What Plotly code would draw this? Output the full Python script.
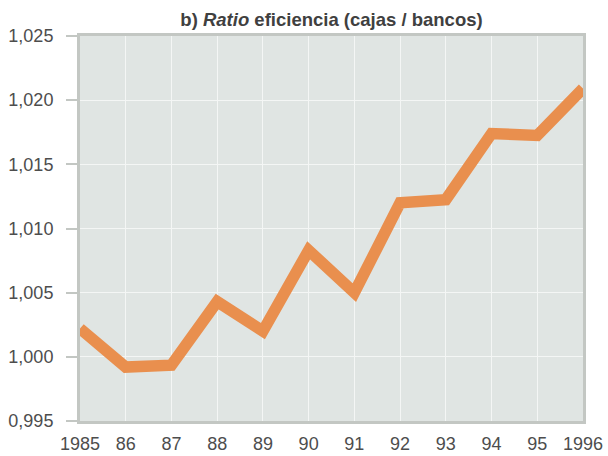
import plotly.graph_objects as go

years = [1985, 1986, 1987, 1988, 1989, 1990, 1991, 1992, 1993, 1994, 1995, 1996]
ratio = [1.0022, 0.9992, 0.99935, 1.0043, 1.0020, 1.0083, 1.0050, 1.0120, 1.01225, 1.0174, 1.01725, 1.0209]
x_tick_labels = ["1985", "86", "87", "88", "89", "90", "91", "92", "93", "94", "95", "1996"]
y_ticks = [0.995, 1.000, 1.005, 1.010, 1.015, 1.020, 1.025]
y_tick_labels = ["0,995", "1,000", "1,005", "1,010", "1,015", "1,020", "1,025"]

fig = go.Figure()
fig.add_trace(go.Scatter(
    x=years, y=ratio, mode="lines",
    line=dict(color="#e98f4e", width=11.5),
    cliponaxis=False, showlegend=False, hoverinfo="skip",
))

border = "#c3c7c3"
fig.update_layout(
    width=608, height=456,
    margin=dict(l=80, r=25, t=36, b=35, autoexpand=False),
    paper_bgcolor="white",
    plot_bgcolor="#e0e5e3",
    font=dict(family="Liberation Sans, Arial, sans-serif", size=18, color="#4d4d4d"),
    title=dict(
        text="<b>b) <i>Ratio</i> eficiencia (cajas / bancos)</b>",
        font=dict(size=18.5, color="#404040"),
        x=0.5, xref="paper", xanchor="center",
        y=1 - 20 / 456, yref="container", yanchor="middle",
    ),
    xaxis=dict(
        range=[1985, 1996], tickmode="array", tickvals=years, ticktext=x_tick_labels,
        showgrid=True, gridcolor="#f4f6f5", gridwidth=1,
        showline=True, linecolor=border, linewidth=3, mirror=True,
        ticks="outside", ticklen=4, tickcolor="rgba(0,0,0,0)",
        zeroline=False, automargin=False,
    ),
    yaxis=dict(
        range=[0.995, 1.025], tickmode="array", tickvals=y_ticks, ticktext=y_tick_labels,
        showgrid=True, gridcolor="#f4f6f5", gridwidth=1,
        showline=True, linecolor=border, linewidth=3, mirror=True,
        ticks="outside", ticklen=11, tickwidth=2, tickcolor=border,
        ticklabelstandoff=9,
        zeroline=False, automargin=False,
    ),
)

fig.write_html(
    "out.html",
    config={"displayModeBar": False},
    post_script="document.body.style.margin='0';document.body.style.overflow='hidden';",
)
